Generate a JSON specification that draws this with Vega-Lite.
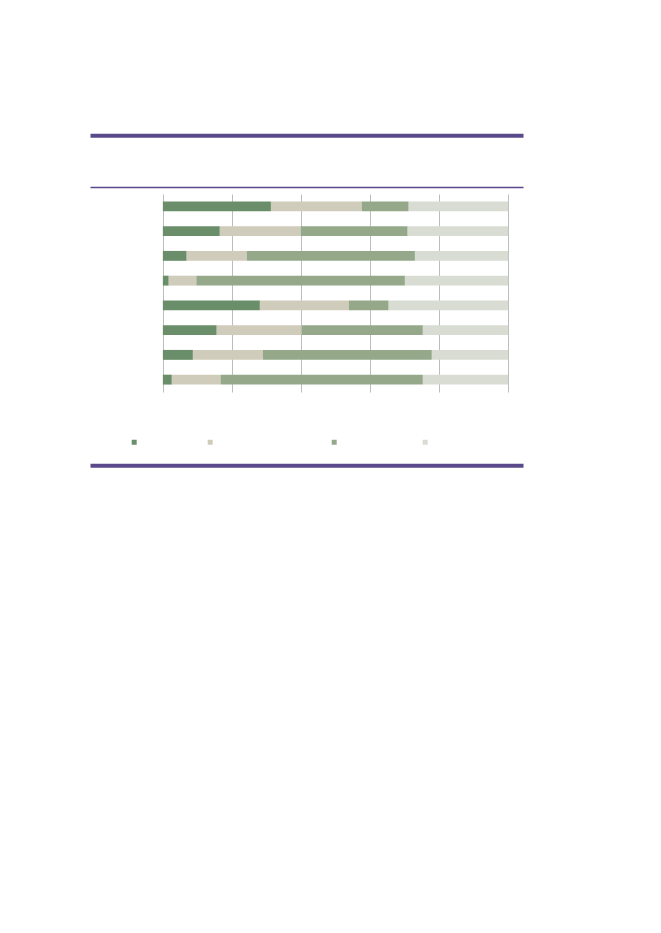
{
  "$schema": "https://vega.github.io/schema/vega-lite/v6.json",
  "width": 433,
  "height": 198,
  "autosize": {"type": "none"},
  "padding": {"left": 90, "top": 194, "right": 138, "bottom": 541},
  "background": "white",
  "data": {
    "values": [
      {"row": "1", "rank": 1, "answer": "Very important", "pct": 31.3},
      {"row": "1", "rank": 2, "answer": "Quite, or slightly, important", "pct": 26.3},
      {"row": "1", "rank": 3, "answer": "Not very important", "pct": 13.6},
      {"row": "1", "rank": 4, "answer": "Not at all important", "pct": 28.8},
      {"row": "2", "rank": 1, "answer": "Very important", "pct": 16.5},
      {"row": "2", "rank": 2, "answer": "Quite, or slightly, important", "pct": 23.4},
      {"row": "2", "rank": 3, "answer": "Not very important", "pct": 31.0},
      {"row": "2", "rank": 4, "answer": "Not at all important", "pct": 29.1},
      {"row": "3", "rank": 1, "answer": "Very important", "pct": 6.9},
      {"row": "3", "rank": 2, "answer": "Quite, or slightly, important", "pct": 17.4},
      {"row": "3", "rank": 3, "answer": "Not very important", "pct": 48.7},
      {"row": "3", "rank": 4, "answer": "Not at all important", "pct": 27.0},
      {"row": "4", "rank": 1, "answer": "Very important", "pct": 1.7},
      {"row": "4", "rank": 2, "answer": "Quite, or slightly, important", "pct": 8.0},
      {"row": "4", "rank": 3, "answer": "Not very important", "pct": 60.4},
      {"row": "4", "rank": 4, "answer": "Not at all important", "pct": 29.9},
      {"row": "5", "rank": 1, "answer": "Very important", "pct": 28.1},
      {"row": "5", "rank": 2, "answer": "Quite, or slightly, important", "pct": 25.8},
      {"row": "5", "rank": 3, "answer": "Not very important", "pct": 11.5},
      {"row": "5", "rank": 4, "answer": "Not at all important", "pct": 34.6},
      {"row": "6", "rank": 1, "answer": "Very important", "pct": 15.6},
      {"row": "6", "rank": 2, "answer": "Quite, or slightly, important", "pct": 24.6},
      {"row": "6", "rank": 3, "answer": "Not very important", "pct": 35.1},
      {"row": "6", "rank": 4, "answer": "Not at all important", "pct": 24.7},
      {"row": "7", "rank": 1, "answer": "Very important", "pct": 8.7},
      {"row": "7", "rank": 2, "answer": "Quite, or slightly, important", "pct": 20.3},
      {"row": "7", "rank": 3, "answer": "Not very important", "pct": 48.9},
      {"row": "7", "rank": 4, "answer": "Not at all important", "pct": 22.1},
      {"row": "8", "rank": 1, "answer": "Very important", "pct": 2.6},
      {"row": "8", "rank": 2, "answer": "Quite, or slightly, important", "pct": 14.1},
      {"row": "8", "rank": 3, "answer": "Not very important", "pct": 58.6},
      {"row": "8", "rank": 4, "answer": "Not at all important", "pct": 24.7}
    ]
  },
  "layer": [
    {
      "mark": {"type": "bar", "opacity": 0},
      "encoding": {
        "y": {"field": "row", "type": "nominal", "sort": null, "axis": null,
              "scale": {"paddingInner": 0.6, "paddingOuter": 0.3}},
        "x": {
          "field": "pct", "type": "quantitative", "stack": null,
          "scale": {"domain": [-21.1, 104.3], "nice": false, "zero": false},
          "axis": {"orient": "top", "offset": 58.7, "grid": false, "ticks": false, "labels": false,
                   "title": null, "domainColor": "#5b4a8b", "domainWidth": 4}
        }
      }
    },
    {
      "mark": {"type": "bar", "opacity": 0},
      "encoding": {
        "y": {"field": "row", "type": "nominal", "sort": null, "axis": null},
        "x": {
          "field": "pct", "type": "quantitative", "stack": null,
          "axis": {"orient": "bottom", "offset": 73.2, "grid": false, "ticks": false, "labels": false,
                   "title": null, "domainColor": "#5b4a8b", "domainWidth": 4}
        }
      }
    },
    {
      "mark": {"type": "bar"},
      "encoding": {
        "y": {"field": "row", "type": "nominal", "sort": null, "axis": null},
        "x": {
          "field": "pct", "type": "quantitative", "stack": "zero",
          "axis": {"orient": "top", "offset": 7.1, "values": [0, 20, 40, 60, 80, 100],
                   "grid": true, "gridColor": "#bdbdbd", "gridWidth": 1,
                   "ticks": false, "labels": false, "title": null,
                   "domainColor": "#5b4a8b", "domainWidth": 1.5}
        },
        "order": {"field": "rank", "type": "quantitative", "sort": "ascending"},
        "color": {
          "field": "answer", "type": "nominal",
          "sort": ["Very important", "Quite, or slightly, important", "Not very important", "Not at all important"],
          "scale": {
            "domain": ["Very important", "Quite, or slightly, important", "Not very important", "Not at all important"],
            "range": ["#6b8e6a", "#d0ccbb", "#95a98a", "#d9dcd2"]
          },
          "legend": {
            "orient": "none", "legendX": 39.7, "legendY": 243.5, "direction": "horizontal",
            "title": null, "padding": 0, "symbolType": "square", "symbolSize": 25,
            "symbolStrokeWidth": 0, "labelFontSize": 9, "labelFont": "Liberation Sans",
            "labelOpacity": 0, "labelOffset": 4, "columnPadding": 4
          }
        }
      }
    }
  ],
  "resolve": {"axis": {"x": "independent"}},
  "config": {"view": {"stroke": null}, "font": "Liberation Sans"}
}
